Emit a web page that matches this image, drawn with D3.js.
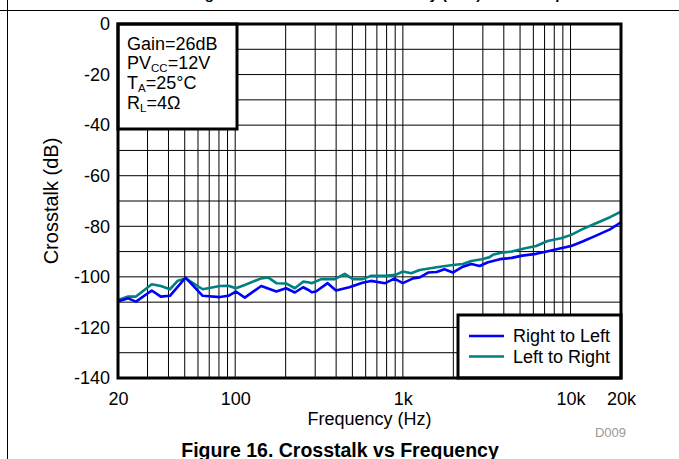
<!DOCTYPE html>
<html><head><meta charset="utf-8">
<script src="https://cdn.jsdelivr.net/npm/d3@7"></script>
<style>
html,body{margin:0;padding:0;background:#fff;}
svg{display:block;font-family:"Liberation Sans",Arial,sans-serif;}
</style></head>
<body>
<svg id="c" width="679" height="459"></svg>
<script>
// ---- data ----
const freqRL = [20,23,25.6,31.8,36,40.8,50.6,64,81,91,101,114,143,176,201,227,254,277,286,303,356,399,479,575,645,784,890,1000,1150,1260,1415,1590,1770,1985,2280,2560,2870,3220,3790,4460,5150,6240,7220,8760,10100,11700,14200,17200,20000];
const valRL  = [-109.7,-108.5,-109.8,-105.4,-107.8,-107.5,-100.3,-107.5,-108,-107.5,-105.8,-108.2,-103.6,-105.8,-104.5,-106.2,-104.1,-105.4,-106.1,-105.8,-102.5,-105.4,-104.1,-102.3,-101.6,-102.5,-100.7,-102.5,-100.6,-100.2,-98.3,-98.1,-97,-98.3,-96,-94.9,-95.7,-94.2,-93,-92.5,-91.6,-90.9,-90,-88.7,-87.8,-86.1,-83.7,-81.2,-78.4];
const freqLR = [20,23,25.6,31.8,36,40.8,45.5,50.6,64,81,91,101,114,143,157,176,201,227,254,277,286,326,393,450,504,575,645,790,905,1000,1120,1260,1590,1985,2280,2560,2950,3270,3440,3900,4460,5370,6240,7300,8760,10100,11700,14200,17200,20000];
const valLR  = [-109.1,-107.8,-107.8,-102.9,-103.6,-104.9,-101.5,-100.6,-104.9,-103.6,-103.5,-104.5,-103.2,-100.6,-100.2,-102.5,-102.6,-104.5,-101.9,-102.2,-102.5,-100.9,-100.9,-98.8,-100.9,-100.9,-99.6,-99.6,-99.2,-97.9,-98.6,-97.3,-96.2,-95.3,-94.9,-93.7,-93,-92.3,-91.3,-90.4,-90,-88.7,-87.8,-85.8,-84.7,-83.4,-81.2,-78.8,-76.4,-74.2];
const seriesNames = ["Right to Left","Left to Right"];
const xTickVals = [20,100,1000,10000,20000];
const xTickLabels = ["20","100","1k","10k","20k"];
const yTickVals = [0,-20,-40,-60,-80,-100,-120,-140];
const conditions = ["Gain=26dB","PV|CC|=12V","T|A|=25°C","R|L|=4Ω"];

// ---- layout ----
const svg = d3.select("#c");
const L=118, R=621, T=24, B=378;
const FS = 18;
const x = d3.scaleLog().domain([20,20000]).range([L,R]);
const y = d3.scaleLinear().domain([-140,0]).range([B,T]);
const colors = ["#0000ff","#008080"];

// page frame
svg.append("line").attr("x1",0).attr("x2",679).attr("y1",10.5).attr("y2",10.5).attr("stroke","#000").attr("stroke-width",1);
svg.append("line").attr("x1",7.5).attr("x2",7.5).attr("y1",0).attr("y2",459).attr("stroke","#000").attr("stroke-width",1);
// previous caption (cut off at top, as in the reference)
svg.append("text").attr("x",340).attr("y",-1).attr("text-anchor","middle")
  .attr("font-weight","bold").attr("font-size",15)
  .text("Ratios 15. Range Total Harmonic Noise Density (BTL) at the Output");

// grid
const vgrid=[];
[10,100,1000].forEach(d=>{for(let k=1;k<10;k++){const f=d*k; if(f>20&&f<20000) vgrid.push(f);} });
vgrid.push(10000);
const g = svg.append("g");
g.selectAll(".vg").data(vgrid).enter().append("line")
  .attr("x1",d=>x(d)).attr("x2",d=>x(d)).attr("y1",T).attr("y2",B)
  .attr("stroke","#000").attr("stroke-width",1);
g.selectAll(".hg").data(d3.range(-130,0,10)).enter().append("line")
  .attr("x1",L).attr("x2",R).attr("y1",d=>y(d)).attr("y2",d=>y(d))
  .attr("stroke","#000").attr("stroke-width",1);

// axes labels
const yAxis = d3.axisLeft(y).tickValues(yTickVals).tickSize(0).tickPadding(8).tickFormat(d=>String(d));
const ya = svg.append("g").attr("transform",`translate(${L},0)`).call(yAxis);
ya.select(".domain").remove();
ya.selectAll("text").attr("font-size",FS).attr("font-family","Liberation Sans, Arial, sans-serif").attr("fill","#000");
const xAxis = d3.axisBottom(x).tickValues(xTickVals).tickSize(0).tickPadding(14).tickFormat((d,i)=>xTickLabels[i]);
const xa = svg.append("g").attr("transform",`translate(0,${B})`).call(xAxis);
xa.select(".domain").remove();
xa.selectAll("text").attr("font-size",FS).attr("font-family","Liberation Sans, Arial, sans-serif").attr("fill","#000");

svg.append("text").attr("transform",`translate(58,${(T+B)/2}) rotate(-90)`).attr("text-anchor","middle")
  .attr("font-size",20).text("Crosstalk (dB)");
svg.append("text").attr("x",(L+R)/2).attr("y",425).attr("text-anchor","middle").attr("font-size",FS).text("Frequency (Hz)");
svg.append("text").attr("x",626).attr("y",437).attr("text-anchor","end").attr("font-size",13).attr("fill","#999").text("D009");
svg.append("text").attr("x",340).attr("y",457).attr("text-anchor","middle").attr("font-weight","bold").attr("font-size",19.5).text("Figure 16. Crosstalk vs Frequency");

// lines
const line = d3.line().x(d=>x(d[0])).y(d=>y(d[1]));
const dataLR = freqLR.map((f,i)=>[f,valLR[i]]);
const dataRL = freqRL.map((f,i)=>[f,valRL[i]]);
svg.append("path").attr("d",line(dataLR)).attr("fill","none").attr("stroke",colors[1]).attr("stroke-width",2.6).attr("stroke-linejoin","round");
svg.append("path").attr("d",line(dataRL)).attr("fill","none").attr("stroke",colors[0]).attr("stroke-width",2.6).attr("stroke-linejoin","round");

// conditions box
const bx=L, by=T, bw=237-L, bh=129-T;
svg.append("rect").attr("x",bx).attr("y",by).attr("width",bw).attr("height",bh).attr("fill","#fff").attr("stroke","#000").attr("stroke-width",3);
conditions.forEach((c,i)=>{
  const parts=c.split("|");
  const t=svg.append("text").attr("x",127).attr("y",49.5+i*19.8).attr("font-size",FS);
  t.append("tspan").text(parts[0]);
  if(parts.length>1){
    t.append("tspan").attr("font-size",11.5).attr("dy",3).text(parts[1]);
    t.append("tspan").attr("dy",-3).text(parts[2]);
  }
});

// legend
const lx=458, ly=315;
svg.append("rect").attr("x",lx).attr("y",ly).attr("width",R-lx).attr("height",B-ly).attr("fill","#fff").attr("stroke","#000").attr("stroke-width",3);
seriesNames.forEach((n,i)=>{
  const yy=336+i*20.5;
  svg.append("line").attr("x1",469).attr("x2",504).attr("y1",yy).attr("y2",yy).attr("stroke",colors[i]).attr("stroke-width",2.6);
  svg.append("text").attr("x",513).attr("y",yy+6).attr("font-size",FS).text(n);
});

// plot border
svg.append("rect").attr("x",L).attr("y",T).attr("width",R-L).attr("height",B-T).attr("fill","none").attr("stroke","#000").attr("stroke-width",3);
</script>
</body></html>
